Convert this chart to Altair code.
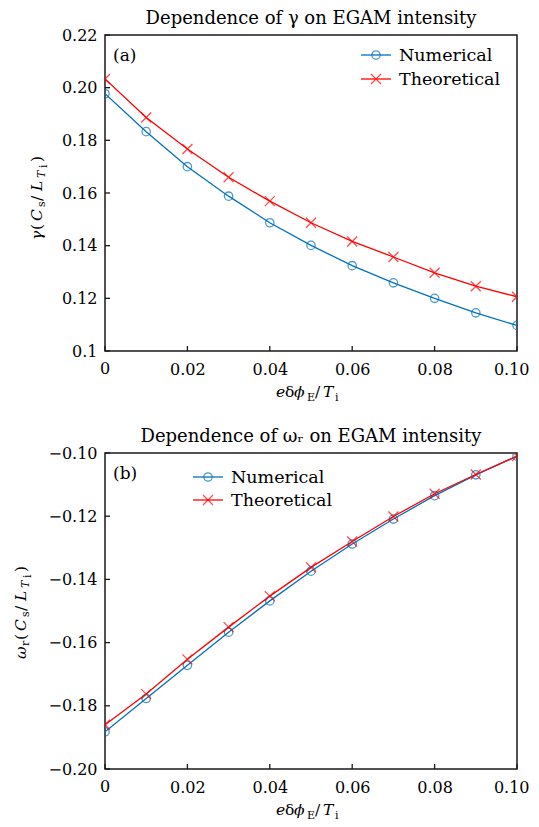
import altair as alt
import pandas as pd

# ---------------- data ----------------
x_vals = [0.0, 0.01, 0.02, 0.03, 0.04, 0.05, 0.06, 0.07, 0.08, 0.09, 0.10]
gamma_num = [0.1977, 0.1833, 0.1700, 0.1588, 0.1487, 0.1401, 0.1324, 0.1259, 0.1200, 0.1145, 0.1097]
gamma_theo = [0.2033, 0.1887, 0.1767, 0.1660, 0.1569, 0.1487, 0.1416, 0.1357, 0.1297, 0.1246, 0.1206]
omega_num = [-0.1882, -0.1777, -0.1672, -0.1567, -0.1468, -0.1374, -0.1288, -0.1209, -0.1135, -0.1069, -0.1010]
omega_theo = [-0.1860, -0.1763, -0.1653, -0.1551, -0.1453, -0.1362, -0.1280, -0.1201, -0.1129, -0.1068, -0.1010]
series_names = ["Numerical", "Theoretical"]
series_colors = ["#0072BD", "#FF0000"]
x_ticks = [0.0, 0.02, 0.04, 0.06, 0.08, 0.10]
gamma_ticks = [0.10, 0.12, 0.14, 0.16, 0.18, 0.20, 0.22]
omega_ticks = [-0.20, -0.18, -0.16, -0.14, -0.12, -0.10]
titles = ["Dependence of \u03b3 on EGAM intensity", "Dependence of \u03c9\u1d63 on EGAM intensity"]
tags = ["(a)", "(b)"]

W, H = 412, 316
FONT = "DejaVu Serif"
FRAME = "#1a1a1a"
CROSS = "M-1,-1L1,1M-1,1L1,-1"
cscale = alt.Scale(domain=series_names, range=series_colors)


def long_df(num, theo):
    return pd.DataFrame({
        "x": x_vals + x_vals,
        "y": num + theo,
        "series": [series_names[0]] * len(x_vals) + [series_names[1]] * len(x_vals),
    })


def one():
    return alt.Data(values=[{}])


def glyph(text, x, y, style, angle=0):
    italic = style.startswith("it")
    sub = style.endswith("sub")
    kw = dict(text=text, font=FONT, fontSize=11 if sub else 15.5, align="left",
              baseline="alphabetic", color="#000")
    if italic:
        kw["fontStyle"] = "italic"
    if angle:
        kw["angle"] = angle
    return alt.Chart(one()).mark_text(**kw).encode(x=alt.value(x), y=alt.value(y))


def x_title():
    b = H + 46
    s = H + 49.5
    parts = [("e", 171, b, "it"), ("\u03b4", 180, b, "rm"), ("\u03d5", 189, b, "it"),
             ("E", 202, s, "rmsub"), ("/", 210, b, "rm"), ("T", 218, b, "it"),
             ("i", 230, s, "rmsub")]
    return [glyph(t, x, y, st) for t, x, y, st in parts]


def y_title(first, first_sub, base_x, paren_y):
    sx = base_x + 3
    parts = [(first[0], base_x, first[1], "it")]
    if first_sub:
        parts.append((first_sub[0], sx, first_sub[1], "rmsub"))
    rel = [("(", 0, "rm"), ("C", -9, "it"), ("s", -23, "rmsub"), ("/", -29, "rm"),
           ("L", -39, "it"), ("T", -52, "itsub"), ("i", -62, "rmsub"), (")", -68, "rm")]
    for t, dy, st in rel:
        if st == "itsub":
            parts.append((t, sx, paren_y + dy, "itsub"))
        elif st == "rmsub":
            parts.append((t, sx + (2 if t == "i" else 0), paren_y + dy, "rmsub"))
        else:
            parts.append((t, base_x, paren_y + dy, st))
    return [glyph(t, x, y, st, angle=270) for t, x, y, st in parts]


def panel(df, yticks, ydomain, ylabel_expr, title, tag, leg, ytitle_layers):
    xenc = alt.X("x:Q", scale=alt.Scale(domain=[0, 0.1], nice=False, zero=False),
                 axis=alt.Axis(values=x_ticks[1:],
                               labelExpr="format(datum.value, '.2f')",
                               ticks=False, tickSize=0, domain=False, grid=False,
                               labelFont=FONT, labelFontSize=16, labelColor="#000",
                               labelPadding=10, labelFlush=True, labelFlushOffset=12,
                               title=None))
    yenc = alt.Y("y:Q", scale=alt.Scale(domain=ydomain, nice=False, zero=False),
                 axis=alt.Axis(values=yticks, labelExpr=ylabel_expr,
                               ticks=False, tickSize=0, domain=False, grid=False,
                               labelFont=FONT, labelFontSize=16, labelColor="#000",
                               labelPadding=8, labelFlush=False, title=None))
    color = alt.Color("series:N", scale=cscale, legend=None)
    base = alt.Chart(df)
    lines = base.mark_line(strokeWidth=1.3, clip=True).encode(x=xenc, y=yenc, color=color)
    circ = base.transform_filter(alt.datum.series == series_names[0]).mark_point(
        shape="circle", filled=False, size=70, strokeWidth=1.3, clip=True
    ).encode(x="x:Q", y="y:Q", color=color)
    crs = base.transform_filter(alt.datum.series == series_names[1]).mark_point(
        shape=CROSS, filled=False, size=100, strokeWidth=1.3, clip=True
    ).encode(x="x:Q", y="y:Q", color=color)

    xt = alt.Chart(pd.DataFrame({"t": x_ticks})).mark_rule(color=FRAME, strokeWidth=1.3).encode(
        x="t:Q", y=alt.value(H), y2=alt.value(H - 5))
    yt = alt.Chart(pd.DataFrame({"t": yticks})).mark_rule(color=FRAME, strokeWidth=1.3).encode(
        y="t:Q", x=alt.value(0), x2=alt.value(5))
    # first x tick label ("0"), drawn through the x scale
    zero_lbl = alt.Chart(pd.DataFrame({"t": x_ticks[:1]})).mark_text(
        align="center", baseline="top", font=FONT, fontSize=16, color="#000").encode(
        x="t:Q", y=alt.value(H + 10), text=alt.Text("t:Q", format="d"))

    lx0, lx1, ly0, ldy = leg
    leg_df = pd.DataFrame({"series": series_names})
    legend_layers = []
    for i, name in enumerate(series_names):
        lb = alt.Chart(leg_df).transform_filter(alt.datum.series == name)
        yy = ly0 + i * ldy
        legend_layers.append(lb.mark_rule(strokeWidth=1.3).encode(
            x=alt.value(lx0), x2=alt.value(lx1), y=alt.value(yy), color=color))
        legend_layers.append(lb.mark_point(
            shape="circle" if i == 0 else CROSS, filled=False,
            size=70 if i == 0 else 100, strokeWidth=1.3).encode(
            x=alt.value((lx0 + lx1) / 2), y=alt.value(yy), color=color))
        legend_layers.append(lb.mark_text(align="left", baseline="middle", font=FONT,
                                          fontSize=17.5, color="#000").encode(
            x=alt.value(lx1 + 8), y=alt.value(yy + 1), text="series:N"))

    tag_layer = alt.Chart(one()).mark_text(text=tag, align="left", baseline="middle",
                                           font=FONT, fontSize=17, color="#000").encode(
        x=alt.value(8), y=alt.value(21))

    layers = ([lines, circ, crs, xt, yt, zero_lbl] + legend_layers + [tag_layer]
              + x_title() + ytitle_layers)
    return alt.layer(*layers).properties(
        width=W, height=H,
        view=alt.ViewBackground(stroke=FRAME, strokeWidth=1.5),
        title=alt.TitleParams(title, font=FONT, fontSize=18, fontWeight="normal",
                              color="#000", offset=-1, anchor="middle"),
    )


top = panel(long_df(gamma_num, gamma_theo), gamma_ticks, [0.1, 0.22],
            "datum.value < 0.105 ? '0.1' : format(datum.value, '.2f')",
            titles[0], tags[0], (256, 286, 20, 24),
            y_title(("\u03b3", 205), None, -63, 195))
bottom = panel(long_df(omega_num, omega_theo), omega_ticks, [-0.2, -0.1],
               "format(datum.value, '.2f')",
               titles[1], tags[1], (88, 118, 24, 23),
               y_title(("\u03c9", 206), ("r", 193), -79, 187))

chart = alt.vconcat(top, bottom, spacing=23).properties(
    padding={"left": 5, "top": 1, "right": 0, "bottom": 0},
    background="white",
).configure_view(stroke=FRAME, strokeWidth=1.5)

chart.save("out.html", embed_options={"renderer": "svg", "actions": False})
